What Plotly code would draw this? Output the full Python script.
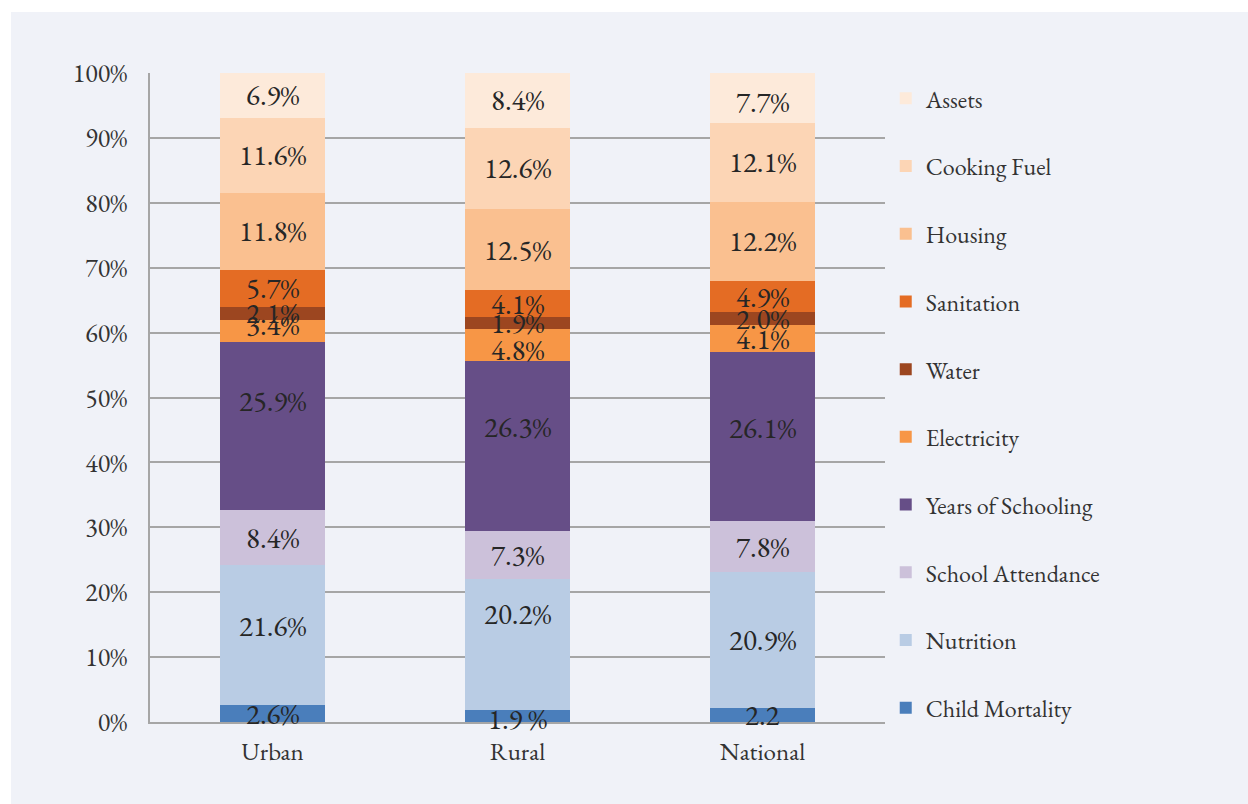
import plotly.graph_objects as go

categories = ["Urban", "Rural", "National"]

series_names = ["Child Mortality", "Nutrition", "School Attendance", "Years of Schooling",
                "Electricity", "Water", "Sanitation", "Housing", "Cooking Fuel", "Assets"]

child_mortality = [2.6, 1.9, 2.2]
nutrition = [21.6, 20.2, 20.9]
school_attendance = [8.4, 7.3, 7.8]
years_of_schooling = [25.9, 26.3, 26.1]
electricity = [3.4, 4.8, 4.1]
water = [2.1, 1.9, 2.0]
sanitation = [5.7, 4.1, 4.9]
housing = [11.8, 12.5, 12.2]
cooking_fuel = [11.6, 12.6, 12.1]
assets = [6.9, 8.4, 7.7]

label_child_mortality = ["2.6%", "1.9 %", "2.2"]

values = [child_mortality, nutrition, school_attendance, years_of_schooling,
          electricity, water, sanitation, housing, cooking_fuel, assets]

# styling
colors = ["#4a7ebb", "#b9cce4", "#ccc1da", "#664e87", "#f79646",
          "#9c4620", "#e46c24", "#fac090", "#fcd5b5", "#fdeada"]
# pixel nudges of the data labels (as placed in the original), per series per category
label_nudge_px = {
    "Nutrition": [9, 30, 0],
    "Years of Schooling": [25, 19, 9],
    "Electricity": [6, -5, 0],
    "Assets": [0, 0, -4],
    "Child Mortality": [0, -3, 0],
}

FONT = "EB Garamond, Garamond, Liberation Serif, serif"
BG = "#f0f2f8"

fig = go.Figure()
annotations = []
base = [0.0] * len(categories)
n = len(series_names)
for i, (name, vals, col) in enumerate(zip(series_names, values, colors)):
    texts = label_child_mortality if i == 0 else [f"{v:.1f}%" for v in vals]
    fig.add_trace(go.Bar(
        x=categories, y=vals, name=name, marker=dict(color=col, line=dict(width=0)),
        legendgroup=name, legendrank=n - i, hoverinfo="skip",
    ))
    nudges = label_nudge_px.get(name, [0] * len(categories))
    for j, cat in enumerate(categories):
        annotations.append(dict(
            x=cat, y=base[j] + vals[j] / 2, xref="x", yref="y", text=texts[j],
            showarrow=False, yshift=nudges[j],
            font=dict(family=FONT, size=29, color="#262626"),
        ))
        base[j] += vals[j]

fig.update_layout(
    barmode="stack",
    bargap=0.57,
    width=1248, height=804,
    margin=dict(l=150, r=363, t=73, b=82),
    paper_bgcolor="white",
    plot_bgcolor=BG,
    font=dict(family=FONT, size=24, color="#333333"),
    showlegend=True,
    legend=dict(
        traceorder="grouped", x=1.001, xanchor="left", y=0.995, yanchor="top",
        font=dict(family=FONT, size=24, color="#333333"),
        tracegroupgap=33.5, bgcolor="rgba(0,0,0,0)", itemwidth=30, maxheight=2000,
    ),
    annotations=annotations,
    shapes=[dict(type="rect", xref="paper", yref="paper",
                 x0=(11 - 150) / 735, x1=(1260 - 150) / 735,
                 y0=(722 - 820) / 649, y1=(722 - 12) / 649,
                 fillcolor=BG, line=dict(width=0), layer="below")],
)

fig.update_yaxes(
    range=[0, 100], dtick=10, ticksuffix="%", showgrid=True,
    gridcolor="#a6a6a6", gridwidth=1.5, showline=True, linecolor="#a6a6a6",
    linewidth=1.5, ticks="", ticklabelstandoff=16, zeroline=False,
    tickfont=dict(family=FONT, size=26, color="#333333"),
)
fig.update_xaxes(
    showline=True, linecolor="#a6a6a6", linewidth=1.5, ticks="",
    tickfont=dict(family=FONT, size=25, color="#333333"),
    ticklabelstandoff=6,
)

fig.write_html("out.html", config={"displayModeBar": False},
               post_script="document.body.style.margin='0';")
